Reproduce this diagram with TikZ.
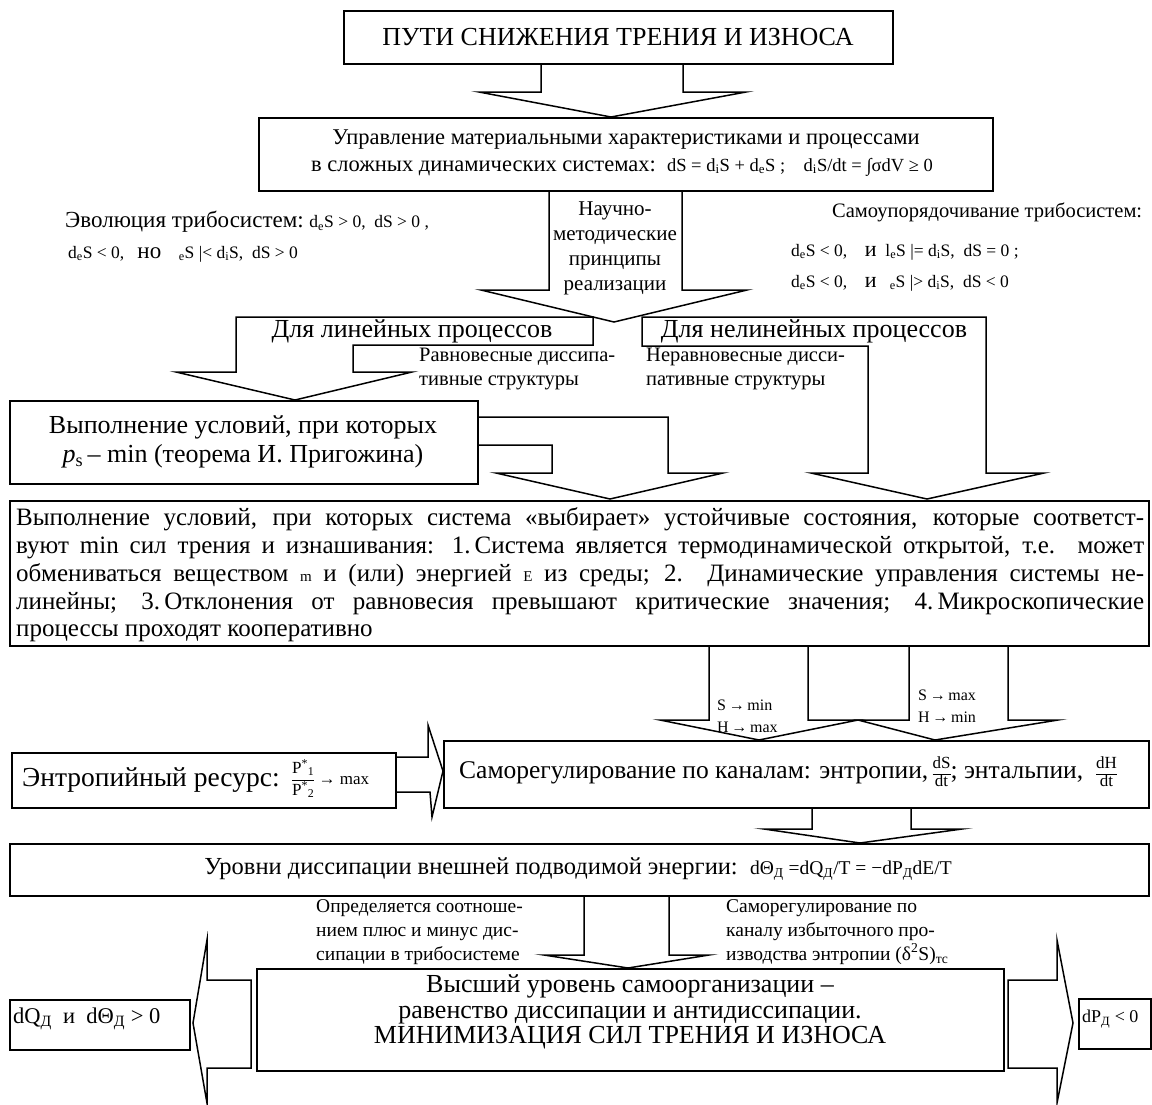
\documentclass[tikz,border=0pt]{standalone}
\usepackage{fontspec}
\setmainfont{Liberation Serif}
\newcommand\fsz[2]{\fontsize{#1}{#2}\selectfont}
\newcommand\sbs[1]{\textsubscript{#1}}
\newcommand\jl[1]{\hbox to 1128pt{#1}}
\newcommand\vfr[2]{\begin{tabular}[c]{@{}c@{}}#1\\\hline #2\end{tabular}}
\tikzset{
  ln/.style={line width=1.5pt, line join=miter, miter limit=25},
  bx/.style={draw, line width=1.5pt, inner sep=0pt, anchor=north west},
  tx/.style={inner sep=0pt, align=center},
  txw/.style={inner sep=0pt, anchor=west, align=left},
}
\begin{document}
\begin{tikzpicture}[x=1pt,y=-1pt]
\fill[white] (0,0) rectangle (1152,1104);
\useasboundingbox (0,0) rectangle (1152,1104);

% ---------- boxes ----------
\node[bx, minimum width=549, minimum height=53] (title) at (343,10) {};
\node[bx, minimum width=734, minimum height=73] (ctrl) at (258,117) {};
\node[bx, minimum width=468, minimum height=83] (prig) at (9,400) {};
\node[bx, minimum width=1139, minimum height=145] (cond) at (9,500) {};
\node[bx, minimum width=384, minimum height=55] (entr) at (11,752) {};
\node[bx, minimum width=705, minimum height=67] (sreg) at (443,740) {};
\node[bx, minimum width=1139, minimum height=52] (lev) at (9,843) {};
\node[bx, minimum width=747, minimum height=102] (high) at (256,968) {};
\node[bx, minimum width=180, minimum height=50] (dq) at (9,999) {};
\node[bx, minimum width=72, minimum height=50] (dp) at (1078,998) {};

% ---------- block arrows ----------
\draw[ln] (541,63) -- (541,92) -- (479,92) -- (611,117) -- (746,92) -- (683,92) -- (683,63);
\draw[ln] (549,190) -- (549,290) -- (481,290) -- (614,322) -- (747,290) -- (682,290) -- (682,190);
\draw[ln] (236,317) -- (593,317) -- (593,345) -- (353,345) -- (353,372) -- (412,372) -- (295,400) -- (176,372) -- (236,372) -- cycle;
\draw[ln] (642,317) -- (986,317) -- (986,473) -- (1044,473) -- (927,499) -- (811,473) -- (868,473) -- (868,346) -- (642,346) -- cycle;
\draw[ln] (477,417) -- (668,417) -- (668,473) -- (723,473) -- (610,499) -- (496,473) -- (552,473) -- (552,445) -- (477,445);
\draw[ln] (709,645) -- (709,720) -- (660,720) -- (759,740) -- (858,720) -- (808,720) -- (808,645);
\draw[ln] (909,645) -- (909,720) -- (858,720) -- (935,740) -- (1058,720) -- (1008,720) -- (1008,645);
\draw[ln] (395,757) -- (428,757) -- (428,725) -- (443,771) -- (432,817) -- (430,792) -- (395,792);
\draw[ln] (812,807) -- (812,829) -- (764,829) -- (860,843) -- (962,829) -- (911,829) -- (911,807);
\draw[ln] (584,895) -- (584,955) -- (544,955) -- (628,968) -- (709,955) -- (669,955) -- (669,895);
\draw[ln] (251,980) -- (207,980) -- (207,940) -- (193,1023) -- (207,1103) -- (207,1068) -- (251,1068) -- cycle;
\draw[ln] (1008,980) -- (1057,980) -- (1057,940) -- (1073,1023) -- (1057,1103) -- (1057,1068) -- (1008,1068) -- cycle;

% ---------- texts ----------
\node[tx, font=\fsz{26}{30}] (titlet) at (618,37) {ПУТИ СНИЖЕНИЯ ТРЕНИЯ И ИЗНОСА};
\node[tx, font=\fsz{22.5}{26}] (ctrl1) at (626,140) {Управление материальными характеристиками и процессами};
\node[tx, font=\fsz{22.5}{26}] (ctrl2) at (622,167) {в сложных динамических системах:\ \ {\fsz{18.5}{20}dS = d\sbs{i}S + d\sbs{e}S ;\quad d\sbs{i}S/dt = ∫σdV ≥ 0}};

\node[txw, font=\fsz{23}{26}] (evo1) at (65,222) {Эволюция трибосистем:\ {\fsz{17.5}{20}d\sbs{e}S > 0,\ \ dS > 0 ,}};
\node[txw, font=\fsz{17.5}{20}] (evo2) at (68,254) {d\sbs{e}S < 0,\ \ \ {\fsz{23}{26}но}\ \ \ \ \sbs{e}S |< d\sbs{i}S,\ \ dS > 0};

\node[tx, font=\fsz{21}{25}] (nm) at (615,248) {Научно-\\методические\\принципы\\реализации};

\node[txw, font=\fsz{20.5}{25}] (self1) at (832,212) {Самоупорядочивание трибосистем:};
\node[txw, font=\fsz{17.5}{20}] (self2) at (791,252) {d\sbs{e}S < 0,\quad {\fsz{22}{24}и}\ \ l\sbs{e}S |= d\sbs{i}S,\ \ dS = 0 ;};
\node[txw, font=\fsz{17.5}{20}] (self3) at (791,283) {d\sbs{e}S < 0,\quad {\fsz{22}{24}и}\ \ \ \sbs{e}S |> d\sbs{i}S,\ \ dS < 0};

\node[tx, font=\fsz{26}{28}] (lin) at (412,331) {Для линейных процессов};
\node[tx, font=\fsz{26}{28}] (nlin) at (814,331) {Для нелинейных процессов};
\node[txw, font=\fsz{20.5}{24}] (eq) at (419,369) {Равновесные диссипа-\\тивные структуры};
\node[txw, font=\fsz{20.5}{24}] (neq) at (646,369) {Неравновесные дисси-\\пативные структуры};

\node[tx, font=\fsz{26}{29}] (prigt) at (243,442) {Выполнение условий, при которых\\\textit{p}\sbs{s}\,– min (теорема И. Пригожина)};

\node[anchor=base west, inner sep=0pt, font=\fsz{25}{28}] (c1) at (16,525) {\jl{Выполнение условий, при которых система «выбирает» устойчивые состояния, которые соответст-}};
\node[anchor=base west, inner sep=0pt, font=\fsz{25}{28}] (c2) at (16,553) {\jl{вуют min сил трения и изнашивания: 1.\,Система является термодинамической открытой, т.е. может}};
\node[anchor=base west, inner sep=0pt, font=\fsz{25}{28}] (c3) at (16,581) {\jl{обмениваться веществом {\fsz{15}{16}m} и (или) энергией {\fsz{15}{16}E} из среды; 2. Динамические управления системы не-}};
\node[anchor=base west, inner sep=0pt, font=\fsz{25}{28}] (c4) at (16,609) {\jl{линейны; 3.\,Отклонения от равновесия превышают критические значения; 4.\,Микроскопические}};
\node[anchor=base west, inner sep=0pt, font=\fsz{25}{28}] (c5) at (16,636) {процессы проходят кооперативно};

\node[txw, font=\fsz{16}{22}] (smin) at (717,716) {S\,→\,min\\H\,→\,max};
\node[txw, font=\fsz{16}{22}] (smax) at (918,706) {S\,→\,max\\H\,→\,min};

\node[txw, font=\fsz{27.5}{30}] (entrt) at (22,780) {Энтропийный ресурс:};
\node[txw, font=\fsz{17}{18}] (entrf) at ([xshift=12pt]entrt.east) {\renewcommand\arraystretch{1.2}\vfr{P\textsuperscript{*}\sbs{1}}{P\textsuperscript{*}\sbs{2}}\ → max};
\node[txw, font=\fsz{25.5}{28}] (sregt) at (459,774) {Саморегулирование по каналам: энтропии,\,{\fsz{17}{18}\vfr{dS}{dt}}; энтальпии,\ \ {\fsz{17}{18}\vfr{dH}{dt}}};

\node[tx, font=\fsz{24.5}{26}] (levt) at (578,869) {Уровни диссипации внешней подводимой энергии:\ \ {\fsz{19.5}{20}dΘ\sbs{Д} =dQ\sbs{Д}/T = −dP\sbs{Д}dE/T}};

\node[txw, font=\fsz{19.5}{24}] (plus) at (316,932) {Определяется соотноше-\\нием плюс и минус дис-\\сипации в трибосистеме};
\node[txw, font=\fsz{19.5}{24}] (excess) at (726,932) {Саморегулирование по\\каналу избыточного про-\\изводства энтропии (δ\textsuperscript{2}S)\sbs{тс}};

\node[tx, font=\fsz{26}{25.5}] (hight) at (630,1012) {Высший уровень самоорганизации –\\равенство диссипации и антидиссипации.\\МИНИМИЗАЦИЯ СИЛ ТРЕНИЯ И ИЗНОСА};

\node[txw, font=\fsz{22.5}{24}] (dqt) at (13,1019) {dQ\sbs{Д}\ \ и\ \ dΘ\sbs{Д} > 0};
\node[txw, font=\fsz{18}{20}] (dpt) at (1082,1019) {dP\sbs{Д} < 0};
\end{tikzpicture}
\end{document}
